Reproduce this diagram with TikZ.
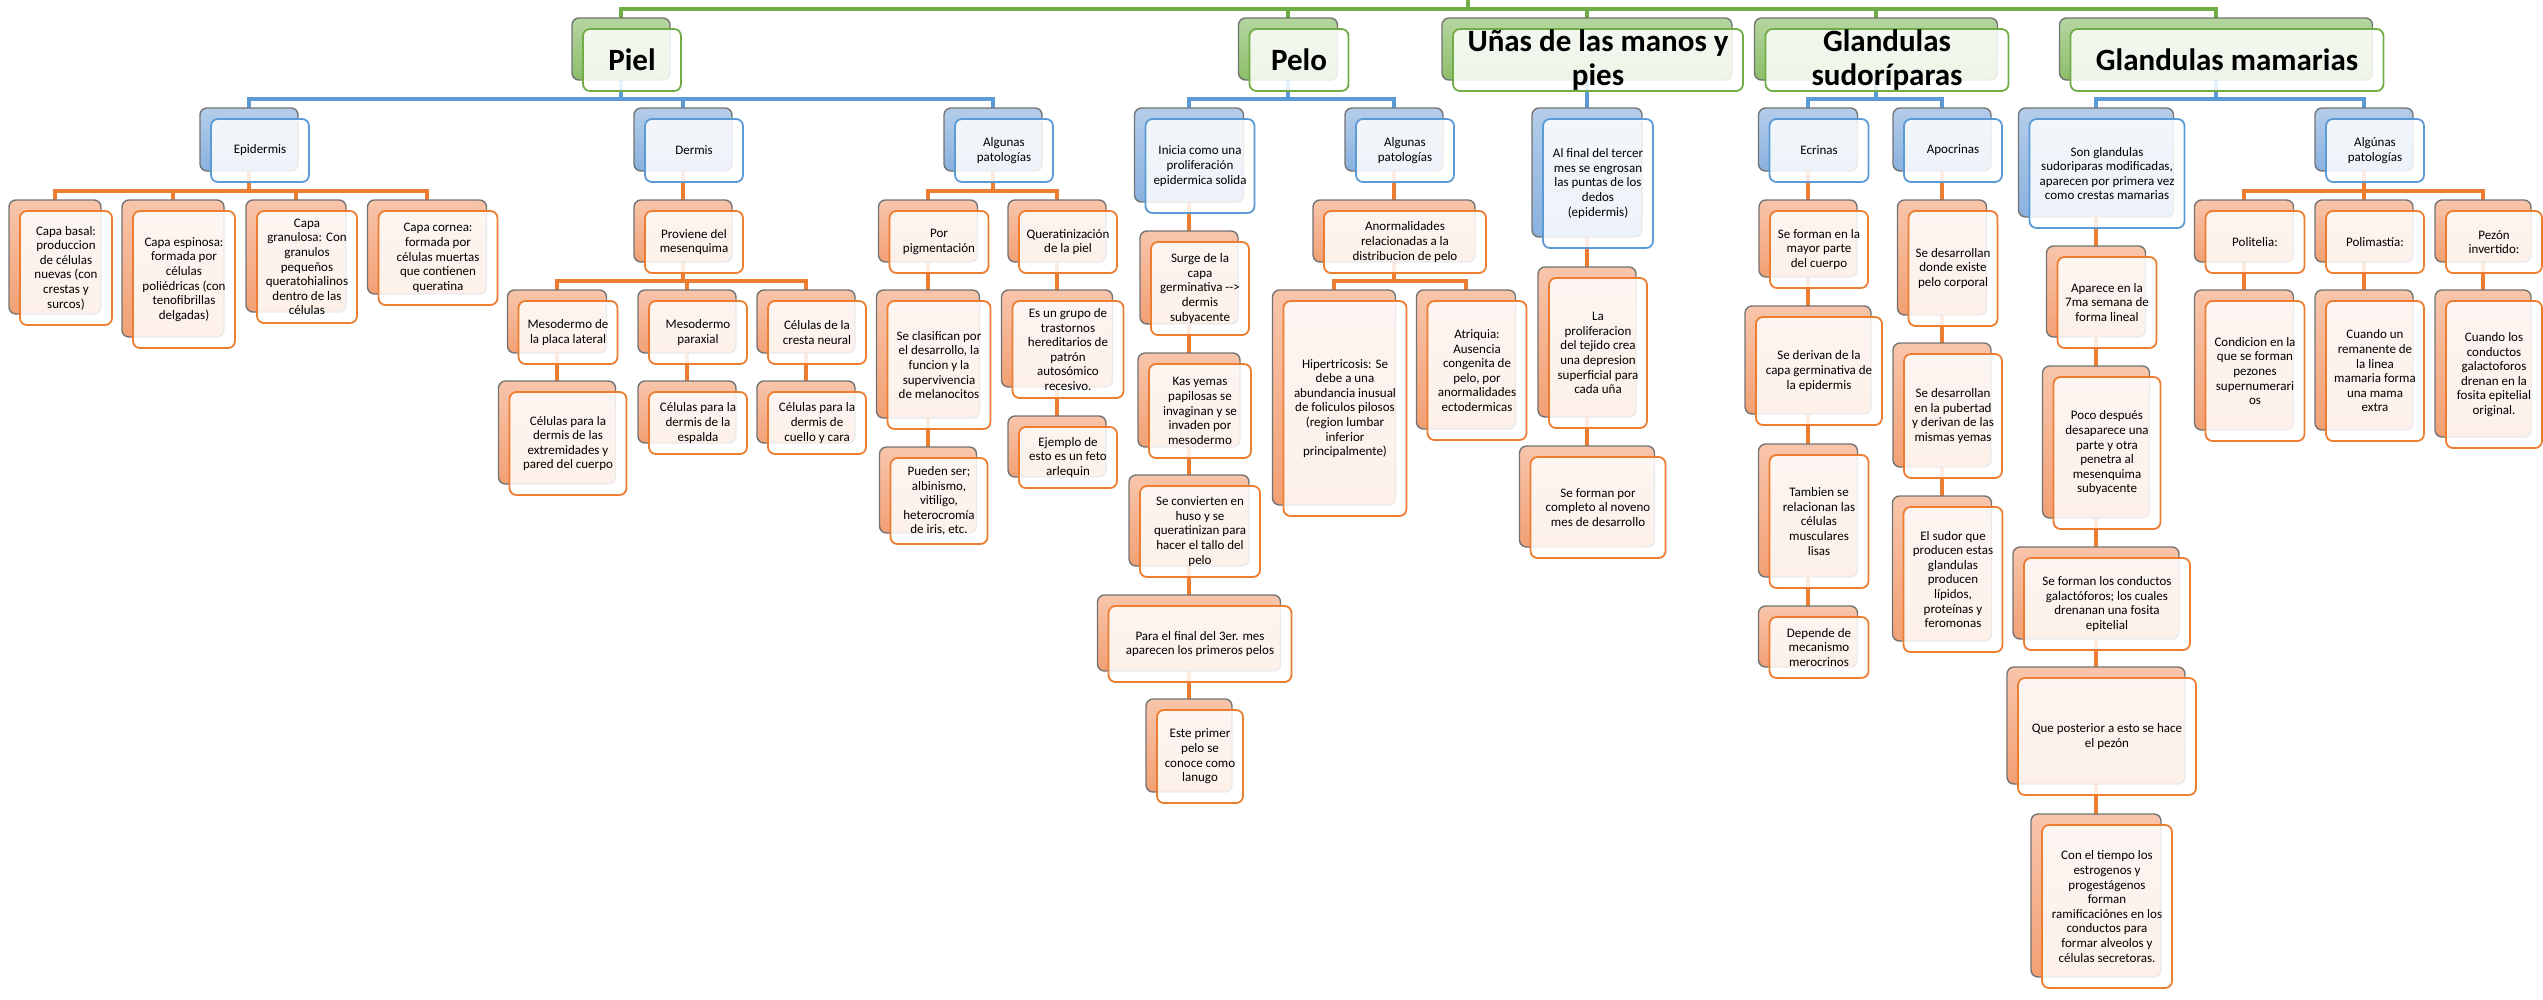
\documentclass[tikz,border=0pt]{standalone}
\usepackage{fontspec}
\setmainfont{Carlito}
\usetikzlibrary{backgrounds}

\definecolor{verdeB}{HTML}{70AD47}
\definecolor{verdeA}{HTML}{B5D6A0}
\definecolor{verdeC}{HTML}{8DBE6A}
\definecolor{azulB}{HTML}{5B9BD5}
\definecolor{azulA}{HTML}{B4CDEA}
\definecolor{azulC}{HTML}{8AB1DF}
\definecolor{naranjaB}{HTML}{ED7D31}
\definecolor{naranjaA}{HTML}{F8C5AB}
\definecolor{naranjaC}{HTML}{F2A074}

\tikzset{
  caja/.style={rounded corners=7pt, inner sep=0pt, outer sep=0pt},
  verde atras/.style={caja, draw=black!55, line width=1.4pt, top color=verdeA, bottom color=verdeC},
  azul atras/.style={caja, draw=black!55, line width=1.4pt, top color=azulA, bottom color=azulC},
  naranja atras/.style={caja, draw=black!55, line width=1.4pt, top color=naranjaA, bottom color=naranjaC},
  frente/.style={caja, fill=white, fill opacity=0.85, text opacity=1, line width=1.8pt,
    align=center, text=black, font=\fontsize{13}{14.6}\selectfont},
  verde frente/.style={frente, draw=verdeB, font=\fontsize{31}{34}\selectfont\bfseries},
  azul frente/.style={frente, draw=azulB},
  naranja frente/.style={frente, draw=naranjaB},
  rama/.style={line width=3.2pt},
  rama verde/.style={rama, draw=verdeB},
  rama azul/.style={rama, draw=azulB},
  rama naranja/.style={rama, draw=naranjaB}
}

% #1 nombre, #2 color, #3 centro x, #4 arriba y, #5 ancho, #6 alto, #7 texto
\newcommand{\bloque}[7]{%
  \node[#2 atras, minimum width=#5pt, minimum height=#6pt] (#1) at (#3, #4+#6/2) {};
  \node[#2 frente, minimum width=#5pt, minimum height=#6pt] (#1-f) at ([shift={(11pt,-11pt)}]#1.center) {#7};
}
% rama de padre a hijo
\newcommand{\rama}[3]{\draw[rama #1] (#2.south) |- ([yshift=9pt]#3.north) -- (#3.north);}

\begin{document}
\begin{tikzpicture}[x=1pt, y=-1pt]
  \useasboundingbox (0,0) rectangle (2543,999);

  % Nivel 1
  \coordinate (raiz) at (1468,0);
  \bloque{piel}{verde}{621}{18}{98}{62}{Piel}
  \bloque{pelo}{verde}{1288}{18}{99}{62}{Pelo}
  \bloque{unas}{verde}{1587}{18}{290}{62}{Uñas de las manos y\\pies}
  \bloque{sudor}{verde}{1876}{18}{243}{62}{Glandulas\\sudoríparas}
  \bloque{mamas}{verde}{2216}{18}{313}{62}{Glandulas mamarias}

  % Nivel 2
  \bloque{epidermis}{azul}{249}{108}{98}{63}{Epidermis}
  \bloque{dermis}{azul}{683}{108}{98}{63}{Dermis}
  \bloque{patpiel}{azul}{993}{108}{98}{63}{Algunas\\patologías}
  \bloque{inicia}{azul}{1189}{108}{109}{94}{Inicia como una\\proliferación\\epidermica solida}
  \bloque{patpelo}{azul}{1394}{108}{98}{63}{Algunas\\patologías}
  \bloque{alfinal}{azul}{1587}{108}{110}{129}{Al final del tercer\\mes se engrosan\\las puntas de los\\dedos\\(epidermis)}
  \bloque{ecrinas}{azul}{1808}{108}{99}{63}{Ecrinas}
  \bloque{apocrinas}{azul}{1942}{108}{98}{63}{Apocrinas}
  \bloque{songland}{azul}{2096}{108}{155}{109}{Son glandulas\\sudoriparas modificadas,\\aparecen por primera vez\\como crestas mamarias}
  \bloque{patmama}{azul}{2364}{108}{98}{63}{Algúnas\\patologías}

  % Piel
  \bloque{basal}{naranja}{55}{200}{92}{114}{Capa basal:\\produccion\\de células\\nuevas (con\\crestas y\\surcos)}
  \bloque{espinosa}{naranja}{173}{200}{102}{137}{Capa espinosa:\\formada por\\células\\poliédricas (con\\tenofibrillas\\delgadas)}
  \bloque{granulosa}{naranja}{296}{200}{100}{112}{Capa\\granulosa: Con\\granulos\\pequeños\\queratohialinos\\dentro de las\\células}
  \bloque{cornea}{naranja}{427}{200}{119}{94}{Capa cornea:\\formada por\\células muertas\\que contienen\\queratina}
  \bloque{proviene}{naranja}{683}{200}{98}{62}{Proviene del\\mesenquima}
  \bloque{mesolat}{naranja}{557}{290}{99}{63}{Mesodermo de\\la placa lateral}
  \bloque{mesopar}{naranja}{687}{290}{98}{63}{Mesodermo\\paraxial}
  \bloque{cresta}{naranja}{806}{290}{98}{63}{Células de la\\cresta neural}
  \bloque{celext}{naranja}{557}{381}{117}{103}{Células para la\\dermis de las\\extremidades y\\pared del cuerpo}
  \bloque{celesp}{naranja}{687}{381}{98}{62}{Células para la\\dermis de la\\espalda}
  \bloque{celcue}{naranja}{806}{381}{98}{62}{Células para la\\dermis de\\cuello y cara}
  \bloque{pigm}{naranja}{928}{200}{99}{62}{Por\\pigmentación}
  \bloque{querat}{naranja}{1057}{200}{98}{62}{Queratinización\\de la piel}
  \bloque{clasif}{naranja}{928}{290}{103}{128}{Se clasifican por\\el desarrollo, la\\funcion y la\\supervivencia\\de melanocitos}
  \bloque{pueden}{naranja}{928}{447}{97}{86}{Pueden ser;\\albinismo,\\vitiligo,\\heterocromía\\de iris, etc.}
  \bloque{grupo}{naranja}{1057}{290}{111}{97}{Es un grupo de\\trastornos\\hereditarios de\\patrón\\autosómico\\recesivo.}
  \bloque{ejemplo}{naranja}{1057}{416}{98}{61}{Ejemplo de\\esto es un feto\\arlequin}

  % Pelo
  \bloque{surge}{naranja}{1189}{231}{98}{93}{Surge de la\\capa\\germinativa -\kern0pt-\kern0pt>\\dermis\\subyacente}
  \bloque{kas}{naranja}{1189}{353}{102}{94}{Kas yemas\\papilosas se\\invaginan y se\\invaden por\\mesodermo}
  \bloque{convierten}{naranja}{1189}{475}{120}{91}{Se convierten en\\huso y se\\queratinizan para\\hacer el tallo del\\pelo}
  \bloque{final3}{naranja}{1189}{595}{183}{76}{Para el final del 3er. mes\\aparecen los primeros pelos}
  \bloque{lanugo}{naranja}{1189}{699}{86}{93}{Este primer\\pelo se\\conoce como\\lanugo}
  \bloque{anorm}{naranja}{1394}{200}{162}{62}{Anormalidades\\relacionadas a la\\distribucion de pelo}
  \bloque{hiper}{naranja}{1334}{290}{123}{215}{Hipertricosis: Se\\debe a una\\abundancia inusual\\de foliculos pilosos\\(region lumbar\\inferior\\principalmente)}
  \bloque{atriq}{naranja}{1466}{290}{99}{139}{Atriquia:\\Ausencia\\congenita de\\pelo, por\\anormalidades\\ectodermicas}

  % Unas
  \bloque{prolif}{naranja}{1587}{267}{98}{150}{La\\proliferacion\\del tejido crea\\una depresion\\superficial para\\cada uña}
  \bloque{completo}{naranja}{1587}{446}{135}{101}{Se forman por\\completo al noveno\\mes de desarrollo}

  % Glandulas sudoriparas
  \bloque{mayor}{naranja}{1808}{200}{98}{77}{Se forman en la\\mayor parte\\del cuerpo}
  \bloque{derivan}{naranja}{1808}{306}{126}{108}{Se derivan de la\\capa germinativa de\\la epidermis}
  \bloque{tambien}{naranja}{1808}{444}{99}{133}{Tambien se\\relacionan las\\células\\musculares\\lisas}
  \bloque{depende}{naranja}{1808}{606}{99}{61}{Depende de\\mecanismo\\merocrinos}
  \bloque{existe}{naranja}{1942}{200}{89}{115}{Se desarrollan\\donde existe\\pelo corporal}
  \bloque{pubertad}{naranja}{1942}{343}{98}{124}{Se desarrollan\\en la pubertad\\y derivan de las\\mismas yemas}
  \bloque{sudorq}{naranja}{1942}{496}{99}{145}{El sudor que\\producen estas\\glandulas\\producen\\lípidos,\\proteínas y\\feromonas}

  % Glandulas mamarias
  \bloque{aparece}{naranja}{2096}{246}{99}{91}{Aparece en la\\7ma semana de\\forma lineal}
  \bloque{poco}{naranja}{2096}{366}{107}{152}{Poco después\\desaparece una\\parte y otra\\penetra al\\mesenquima\\subyacente}
  \bloque{conductos}{naranja}{2096}{547}{166}{92}{Se forman los conductos\\galactóforos; los cuales\\drenanan una fosita\\epitelial}
  \bloque{posterior}{naranja}{2096}{667}{178}{117}{Que posterior a esto se hace\\el pezón}
  \bloque{tiempo}{naranja}{2096}{814}{130}{163}{Con el tiempo los\\estrogenos y\\progestágenos\\forman\\ramificaciónes en los\\conductos para\\formar alveolos y\\células secretoras.}
  \bloque{politelia}{naranja}{2244}{200}{99}{62}{Politelia:}
  \bloque{polimastia}{naranja}{2364}{200}{98}{62}{Polimastía:}
  \bloque{pezon}{naranja}{2483}{200}{96}{62}{Pezón\\invertido:}
  \bloque{condicion}{naranja}{2244}{290}{99}{140}{Condicion en la\\que se forman\\pezones\\supernumerari\\os}
  \bloque{remanente}{naranja}{2364}{290}{98}{140}{Cuando un\\remanente de\\la linea\\mamaria forma\\una mama\\extra}
  \bloque{galacto}{naranja}{2483}{290}{96}{147}{Cuando los\\conductos\\galactoforos\\drenan en la\\fosita epitelial\\original.}

  % Conectores
  \begin{pgfonlayer}{background}
    \foreach \n in {piel,pelo,unas,sudor,mamas}{
      \draw[rama verde] (raiz) |- ([yshift=9pt]\n.north) -- (\n.north);
    }
    \rama{azul}{piel}{epidermis}
    \rama{azul}{piel}{dermis}
    \rama{azul}{piel}{patpiel}
    \rama{azul}{pelo}{inicia}
    \rama{azul}{pelo}{patpelo}
    \rama{azul}{unas}{alfinal}
    \rama{azul}{sudor}{ecrinas}
    \rama{azul}{sudor}{apocrinas}
    \rama{azul}{mamas}{songland}
    \rama{azul}{mamas}{patmama}
    \foreach \h in {basal,espinosa,granulosa,cornea}{
      \rama{naranja}{epidermis}{\h}
    }
    \rama{naranja}{dermis}{proviene}
    \foreach \h/\k in {mesolat/celext,mesopar/celesp,cresta/celcue}{
      \rama{naranja}{proviene}{\h}
      \rama{naranja}{\h}{\k}
    }
    \rama{naranja}{patpiel}{pigm}
    \rama{naranja}{patpiel}{querat}
    \rama{naranja}{pigm}{clasif}
    \rama{naranja}{clasif}{pueden}
    \rama{naranja}{querat}{grupo}
    \rama{naranja}{grupo}{ejemplo}
    \rama{naranja}{inicia}{surge}
    \rama{naranja}{surge}{kas}
    \rama{naranja}{kas}{convierten}
    \rama{naranja}{convierten}{final3}
    \rama{naranja}{final3}{lanugo}
    \rama{naranja}{patpelo}{anorm}
    \rama{naranja}{anorm}{hiper}
    \rama{naranja}{anorm}{atriq}
    \rama{naranja}{alfinal}{prolif}
    \rama{naranja}{prolif}{completo}
    \rama{naranja}{ecrinas}{mayor}
    \rama{naranja}{mayor}{derivan}
    \rama{naranja}{derivan}{tambien}
    \rama{naranja}{tambien}{depende}
    \rama{naranja}{apocrinas}{existe}
    \rama{naranja}{existe}{pubertad}
    \rama{naranja}{pubertad}{sudorq}
    \rama{naranja}{songland}{aparece}
    \rama{naranja}{aparece}{poco}
    \rama{naranja}{poco}{conductos}
    \rama{naranja}{conductos}{posterior}
    \rama{naranja}{posterior}{tiempo}
    \rama{naranja}{patmama}{politelia}
    \rama{naranja}{patmama}{polimastia}
    \rama{naranja}{patmama}{pezon}
    \rama{naranja}{politelia}{condicion}
    \rama{naranja}{polimastia}{remanente}
    \rama{naranja}{pezon}{galacto}
  \end{pgfonlayer}
\end{tikzpicture}
\end{document}
